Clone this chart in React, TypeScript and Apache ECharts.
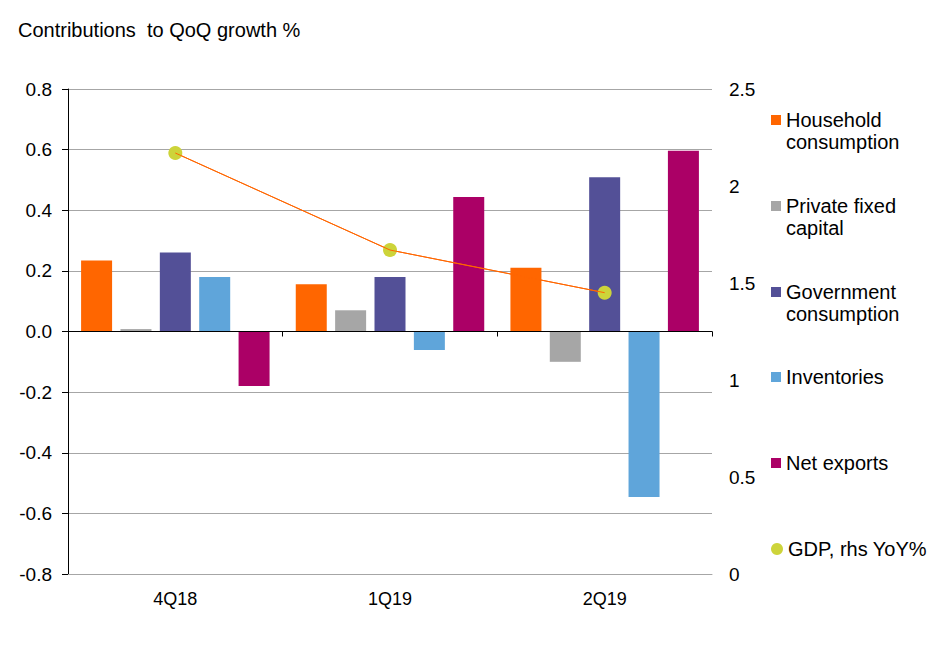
import React, { useEffect, useRef } from "react";
import * as echarts from "echarts";

const categories = ["4Q18", "1Q19", "2Q19"];
const household = [0.234, 0.156, 0.21];
const privateFixed = [0.008, 0.07, -0.1];
const government = [0.261, 0.18, 0.509];
const inventories = [0.18, -0.061, -0.546];
const netExports = [-0.18, 0.444, 0.596];
const gdpYoY = [2.17, 1.67, 1.45];

const seriesNames = [
  "Household consumption",
  "Private fixed capital",
  "Government consumption",
  "Inventories",
  "Net exports",
  "GDP, rhs YoY%",
];
const legendLabels = [
  "Household\nconsumption",
  "Private fixed\ncapital",
  "Government\nconsumption",
  "Inventories",
  "Net exports",
  "GDP, rhs YoY%",
];
const colors = ["#FF6600", "#A6A6A6", "#535097", "#5FA5DA", "#AB0066", "#CDD43A"];
const legendCenters = [120, 206, 292, 377, 463, 549];

const FONT = "Liberation Sans, Arial, sans-serif";

export default function App() {
  const ref = useRef<HTMLDivElement>(null);
  useEffect(() => {
    document.body.style.margin = "0";
    const chart = echarts.init(ref.current!, null, { renderer: "svg" });
    const barData = [household, privateFixed, government, inventories, netExports];
    const barSeries = barData.map((d, i) => ({
      name: seriesNames[i],
      type: "bar",
      xAxisIndex: 0,
      yAxisIndex: 0,
      data: d,
      barWidth: 31,
      barGap: "27%",
      itemStyle: { color: colors[i] },
      z: 3,
    }));
    const legends = seriesNames.map((name, i) => {
      const two = legendLabels[i].includes("\n");
      return {
        data: [{ name, icon: i === 5 ? "circle" : "rect" }],
        left: 771,
        top: two ? legendCenters[i] - 33 : legendCenters[i] - 11,
        padding: 0,
        itemWidth: i === 5 ? 12 : 10,
        itemHeight: i === 5 ? 12 : 10,
        selectedMode: false,
        formatter: () => (two ? "\n" + legendLabels[i] : legendLabels[i]),
        textStyle: {
          fontFamily: FONT,
          fontSize: 20,
          lineHeight: 22,
          color: "#000",
        },
      };
    });
    chart.setOption({
      animation: false,
      title: {
        text: "Contributions  to QoQ growth %",
        left: 18,
        top: 20,
        padding: 0,
        textStyle: { fontFamily: FONT, fontSize: 20, fontWeight: "normal", color: "#000" },
      },
      legend: legends,
      grid: { left: 68, right: 234, top: 89, bottom: 82 },
      xAxis: [
        {
          type: "category",
          data: categories,
          position: "bottom",
          axisLine: { onZero: false, lineStyle: { color: "#A6A6A6", width: 1 } },
          axisTick: { show: false },
          axisLabel: { fontFamily: FONT, fontSize: 18, color: "#000", margin: 16 },
        },
        {
          type: "category",
          data: categories,
          position: "bottom",
          axisLine: { onZero: true, onZeroAxisIndex: 0, lineStyle: { color: "#000", width: 1 } },
          axisTick: { show: true, length: 5, lineStyle: { color: "#000" } },
          axisLabel: { show: false },
          z: 5,
        },
      ],
      yAxis: [
        {
          type: "value",
          min: -0.8,
          max: 0.8,
          interval: 0.2,
          axisLine: { show: true, lineStyle: { color: "#000" } },
          axisTick: { show: true, length: 6, lineStyle: { color: "#000" } },
          axisLabel: {
            fontFamily: FONT,
            fontSize: 19,
            color: "#000",
            margin: 16,
            formatter: (v: number) => v.toFixed(1),
          },
          splitLine: { show: true, lineStyle: { color: "#A6A6A6", width: 1 } },
        },
        {
          type: "value",
          min: 0,
          max: 2.5,
          interval: 0.5,
          position: "right",
          axisLine: { show: false },
          axisTick: { show: false },
          splitLine: { show: false },
          axisLabel: { fontFamily: FONT, fontSize: 19, color: "#000", margin: 17 },
        },
      ],
      series: [
        ...barSeries,
        {
          name: seriesNames[5],
          type: "line",
          xAxisIndex: 0,
          yAxisIndex: 1,
          data: gdpYoY,
          symbol: "circle",
          symbolSize: 14,
          itemStyle: { color: colors[5] },
          lineStyle: { color: "#FF6600", width: 1 },
          z: 6,
        },
        {
          name: "GDP line",
          type: "line",
          xAxisIndex: 0,
          yAxisIndex: 1,
          data: gdpYoY,
          showSymbol: false,
          symbol: "none",
          lineStyle: { color: "#FF6600", width: 1 },
          z: 7,
        },
      ],
    });
    return () => chart.dispose();
  }, []);
  return <div ref={ref} style={{ width: 946, height: 656 }} />;
}
